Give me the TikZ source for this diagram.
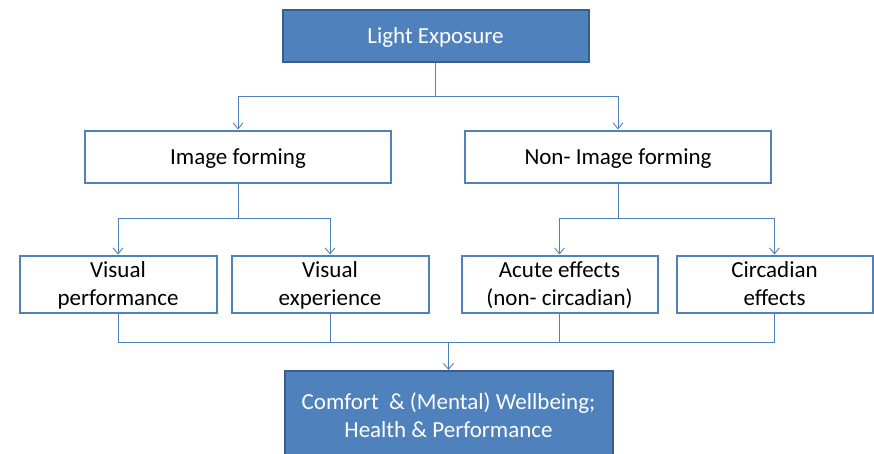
\documentclass[tikz,border=0pt]{standalone}
\usepackage{fontspec}
\setmainfont{Carlito}
\usetikzlibrary{arrows.meta}
\definecolor{accent}{HTML}{4F81BD}
\definecolor{accentdark}{HTML}{385D8A}
\tikzset{
  bluebox/.style={draw=accentdark, line width=2pt, fill=accent, text=white, inner sep=0pt, align=center, text depth=0pt, font=\fontsize{23}{28}\selectfont},
  whitebox/.style={draw=accent, line width=2pt, fill=white, text=black, inner sep=0pt, align=center, text depth=0pt, font=\fontsize{23}{28}\selectfont},
  conn/.style={draw=accent, line width=0.9pt},
  arr/.style={conn, -{Straight Barb[length=6pt,width=10pt]}}
}
\begin{document}
\begin{tikzpicture}[x=1pt,y=-1pt]
\useasboundingbox (0,0) rectangle (874,453);
\clip (0,0) rectangle (874,453);
\node[bluebox, minimum width=306pt, minimum height=52pt] (top) at (435.5,36) {Light Exposure};
\node[whitebox, minimum width=306pt, minimum height=52pt] (img) at (238,156.5) {Image forming};
\node[whitebox, minimum width=306pt, minimum height=52pt] (nimg) at (618,156.5) {Non- Image forming};
\node[whitebox, minimum width=197pt, minimum height=57pt] (vp) at (118,284) {Visual\\performance};
\node[whitebox, minimum width=197pt, minimum height=57pt] (ve) at (330,284) {Visual\\experience};
\node[whitebox, minimum width=196pt, minimum height=57pt] (ac) at (559.5,284) {Acute effects\\(non- circadian)};
\node[whitebox, minimum width=196pt, minimum height=57pt] (ci) at (774.5,284) {Circadian\\effects};
\node[bluebox, minimum width=328pt, minimum height=88pt] (res) at (448.5,415) {Comfort \ \& (Mental) Wellbeing;\\Health \& Performance};
\coordinate (j1) at (435.5,96);
\coordinate (j2) at (238,218);
\coordinate (j3) at (618,218);
\coordinate (j4) at (448.5,342);
% top split
\draw[conn] (top.south) -- (j1);
\draw[arr] (j1) -| (img.north);
\draw[arr] (j1) -| (nimg.north);
% image forming split
\draw[conn] (img.south) -- (j2);
\draw[arr] (j2) -| (vp.north);
\draw[arr] (j2) -| (ve.north);
% non-image split
\draw[conn] (nimg.south) -- (j3);
\draw[arr] (j3) -| (ac.north);
\draw[arr] (j3) -| (ci.north);
% merge
\draw[conn] (vp.south) |- (j4);
\draw[conn] (ve.south) |- (j4);
\draw[conn] (ac.south) |- (j4);
\draw[conn] (ci.south) |- (j4);
\draw[arr] (j4) -- (res.north);
\end{tikzpicture}
\end{document}
